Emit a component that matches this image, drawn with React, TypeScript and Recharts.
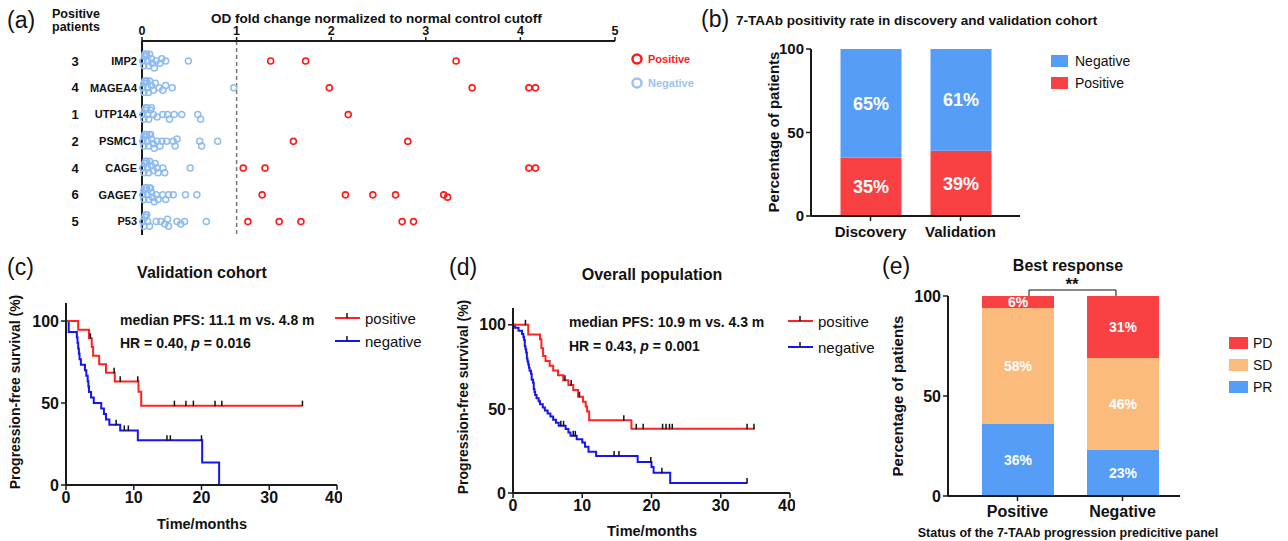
import {
    ScatterChart,
    Scatter,
    XAxis,
    YAxis,
    ReferenceLine,
    BarChart,
    Bar,
    LabelList,
    ComposedChart,
    Line,
} from "recharts";

const FONT = '"Liberation Sans", Arial, Helvetica, sans-serif';
const INK = "#1a1a1a";

// --- (a) marker dot plot ---
const markers = ["IMP2", "MAGEA4", "UTP14A", "PSMC1", "CAGE", "GAGE7", "P53"];
const positiveCounts = [3, 4, 1, 2, 4, 6, 5];
const positiveValues = [
    [1.36, 1.73, 3.32],
    [1.98, 3.49, 4.09, 4.16],
    [2.18],
    [1.6, 2.81],
    [1.07, 1.3, 4.09, 4.16],
    [1.27, 2.15, 2.44, 2.68, 3.19, 3.23],
    [1.12, 1.45, 1.68, 2.75, 2.87],
];
const negativeValues = [
    [0.01, 0.02, 0.03, 0.03, 0.04, 0.05, 0.06, 0.07, 0.08, 0.1, 0.11, 0.13, 0.15, 0.19, 0.21, 0.25, 0.49],
    [0.01, 0.02, 0.02, 0.03, 0.04, 0.05, 0.06, 0.07, 0.08, 0.1, 0.12, 0.14, 0.18, 0.22, 0.25, 0.32, 0.97],
    [0.01, 0.02, 0.03, 0.04, 0.05, 0.06, 0.07, 0.09, 0.1, 0.12, 0.16, 0.22, 0.27, 0.29, 0.34, 0.42, 0.59, 0.62],
    [0.01, 0.02, 0.02, 0.03, 0.04, 0.05, 0.06, 0.07, 0.08, 0.09, 0.1, 0.12, 0.13, 0.16, 0.19, 0.21, 0.26, 0.33, 0.35, 0.37, 0.61, 0.63, 0.8],
    [0.01, 0.02, 0.03, 0.04, 0.05, 0.06, 0.07, 0.08, 0.1, 0.12, 0.14, 0.16, 0.17, 0.22, 0.24, 0.51],
    [0.01, 0.02, 0.02, 0.03, 0.04, 0.05, 0.06, 0.07, 0.08, 0.09, 0.1, 0.11, 0.13, 0.15, 0.17, 0.22, 0.25, 0.28, 0.33, 0.46, 0.58],
    [0.01, 0.02, 0.03, 0.04, 0.05, 0.06, 0.08, 0.15, 0.2, 0.24, 0.27, 0.28, 0.37, 0.41, 0.45, 0.68],
];

// --- (b) positivity rate ---
const cohorts = ["Discovery", "Validation"];
const cohortPositive = [35, 39];
const cohortNegative = [65, 61];

// --- (c) validation cohort PFS ---
const cPosTime = [0, 1.8, 3.4, 3.8, 4.0, 4.9, 5.9, 7.2, 10.7, 11.1, 34.9];
const cPosSurv = [100, 94.7, 89.5, 84.2, 78.9, 73.7, 68.4, 63.2, 56.9, 48.4, 48.4];
const cPosCensTime = [3.6, 7.1, 8.0, 10.6, 16.0, 17.7, 18.8, 22.0, 23.0, 34.9];
const cPosCensSurv = [89.5, 68.4, 63.2, 63.2, 48.4, 48.4, 48.4, 48.4, 48.4, 48.4];
const cNegTime = [0, 0.4, 1.6, 1.7, 1.8, 1.9, 2.0, 2.2, 2.8, 3.0, 3.2, 3.3, 3.4, 3.7, 4.1, 5.2, 5.6, 5.9, 6.4, 8.0, 10.6, 20.1, 22.6];
const cNegSurv = [100, 93.3, 90, 86.7, 83.3, 80, 76.7, 73.3, 70, 66.7, 63.3, 60, 56.7, 53.3, 50, 46.7, 43.3, 40, 36.7, 33.3, 27.3, 13.7, 0];
const cNegCensTime = [7.4, 8.6, 9.2, 14.9, 15.4, 20.0];
const cNegCensSurv = [36.7, 33.3, 33.3, 27.3, 27.3, 27.3];

// --- (d) overall population PFS ---
const dPosTime = [0, 2.2, 3.9, 4.1, 4.35, 4.7, 5.3, 5.8, 6.5, 7.25, 8.0, 8.7, 9.4, 10.1, 10.5, 10.7, 11.0, 17.1, 34.9];
const dPosSurv = [100, 94.3, 91.4, 86.0, 81.4, 78.5, 75.7, 72.8, 70.0, 67.1, 64.2, 61.3, 57.2, 54.3, 51.4, 48.5, 43.2, 38.2, 38.2];
const dPosCensTime = [1.8, 7.5, 8.4, 9.6, 16.0, 17.8, 18.8, 21.6, 22.1, 22.6, 23.0, 33.8, 34.8];
const dPosCensSurv = [100, 67.1, 64.2, 57.2, 43.2, 38.2, 38.2, 38.2, 38.2, 38.2, 38.2, 38.2, 38.2];
const dNegTime = [0, 0.3, 0.8, 1.3, 1.5, 1.6, 1.7, 1.8, 1.9, 2.0, 2.1, 2.2, 2.3, 2.4, 2.6, 2.7, 2.9, 3.0, 3.1, 3.2, 3.4, 3.7, 3.9, 4.3, 4.6, 5.0, 5.4, 5.8, 6.2, 6.6, 7.6, 8.0, 8.3, 9.2, 10.0, 10.4, 10.9, 12.0, 18.0, 20.0, 20.3, 22.7, 33.8];
const dNegSurv = [100, 98.2, 96.4, 94.5, 92.7, 90.9, 87.3, 85.5, 83.6, 80.0, 78.2, 76.4, 74.5, 72.7, 70.9, 67.3, 65.5, 61.8, 60.0, 58.2, 56.4, 54.5, 52.7, 50.9, 49.1, 47.3, 45.5, 43.6, 41.8, 40.0, 38.0, 36.0, 34.0, 32.0, 30.0, 27.5, 24.6, 22.0, 18.5, 15.5, 12.0, 6.0, 6.0];
const dNegCensTime = [6.9, 7.3, 8.7, 9.0, 14.6, 15.3, 19.9, 21.5, 33.8];
const dNegCensSurv = [40, 40, 34, 34, 22, 22, 18.5, 12, 6];

// --- (e) best response ---
const statuses = ["Positive", "Negative"];
const prRate = [36, 23];
const sdRate = [58, 46];
const pdRate = [6, 31];

// spread points of one row so circles don't sit on top of each other
const PX_PER_UNIT = 94.6;
const PX_PER_ROW = 26.7;
function swarm(rows: number[][]) {
    const out: { v: number; row: number }[] = [];
    rows.forEach((vals, r) => {
        const placed: { x: number; y: number }[] = [];
        [...vals].sort((a, b) => a - b).forEach((v) => {
            const x = v * PX_PER_UNIT;
            let dy = 0;
            for (const k of [0, 1, -1, 2, -2, 3, -3]) {
                dy = k * 2.3;
                if (placed.every((p) => Math.hypot(p.x - x, p.y - dy) >= 4)) break;
            }
            placed.push({ x, y: dy });
            out.push({ v, row: r + dy / PX_PER_ROW });
        });
    });
    return out;
}

const zip = (t: number[], s: number[]) => t.map((x, i) => ({ t: x, s: s[i] }));

const axisStyle = { stroke: INK, strokeWidth: 2 };
const tickFont = { fill: "#111", fontSize: 16, fontWeight: 700, fontFamily: FONT };

const censorShape = (p: any) => (
    <line x1={p.cx} x2={p.cx} y1={p.cy - 5} y2={p.cy + 0.5} stroke="#111" strokeWidth={1.5} />
);

function DotPanel() {
    const neg = swarm(negativeValues);
    const pos = swarm(positiveValues);
    const rowTick = (p: any) => {
        const i = p.payload.value;
        return (
            <g>
                <text x={p.x} y={p.y} dy="0.35em" textAnchor="end" fontSize={11} fontWeight={700} fill="#111" fontFamily={FONT}>
                    {markers[i]}
                </text>
                <text x={75} y={p.y} dy="0.35em" textAnchor="middle" fontSize={13} fontWeight={700} fill="#111" fontFamily={FONT}>
                    {positiveCounts[i]}
                </text>
            </g>
        );
    };
    return (
        <ScatterChart width={640} height={240} margin={{ top: 11, right: 25, bottom: 5, left: 10 }}>
            <XAxis
                type="number"
                dataKey="v"
                orientation="top"
                domain={[0, 5]}
                ticks={[0, 1, 2, 3, 4, 5]}
                height={30}
                axisLine={axisStyle}
                tickLine={{ stroke: INK, strokeWidth: 1.5 }}
                tickSize={4}
                tick={{ ...tickFont, fontSize: 12.5 }}
            />
            <YAxis
                type="number"
                dataKey="row"
                domain={[-0.75, 6.5]}
                reversed
                ticks={[0, 1, 2, 3, 4, 5, 6]}
                width={132}
                axisLine={axisStyle}
                tickLine={{ stroke: INK, strokeWidth: 1 }}
                tickSize={3}
                tick={rowTick}
            />
            <ReferenceLine x={1} stroke="#777" strokeDasharray="4 3" strokeWidth={1.5} />
            <Scatter
                data={neg}
                isAnimationActive={false}
                shape={(p: any) => <circle cx={p.cx} cy={p.cy} r={3} fill="none" stroke="#8FBCF0" strokeWidth={1.5} />}
            />
            <Scatter
                data={pos}
                isAnimationActive={false}
                shape={(p: any) => <circle cx={p.cx} cy={p.cy} r={3} fill="none" stroke="#FF1A1A" strokeWidth={1.6} />}
            />
        </ScatterChart>
    );
}

const pctLabel = (size: number) => (p: any) => {
    const vb = p.viewBox ?? p;
    const x = (vb.x ?? p.x) + (vb.width ?? p.width) / 2;
    const y = (vb.y ?? p.y) + (vb.height ?? p.height) / 2;
    return (
        <text x={x} y={y} dy="0.36em" textAnchor="middle" fill="#fff" fontSize={size} fontWeight={700} fontFamily={FONT}>
            {`${p.value}%`}
        </text>
    );
};

function CohortBars() {
    const data = cohorts.map((c, i) => ({ name: c, pos: cohortPositive[i], neg: cohortNegative[i] }));
    return (
        <BarChart width={325} height={250} data={data} margin={{ top: 49, right: 5, bottom: 4, left: 61 }}>
            <XAxis dataKey="name" padding={{ left: 14.5, right: 14.5 }} height={30} axisLine={axisStyle} tickLine={{ stroke: INK, strokeWidth: 1.5 }} tickSize={5} tickMargin={5} tick={{ ...tickFont, fontSize: 15 }} />
            <YAxis domain={[0, 100]} ticks={[0, 50, 100]} width={50} axisLine={axisStyle} tickLine={{ stroke: INK, strokeWidth: 1.5 }} tickSize={5} tick={{ ...tickFont, fontSize: 15 }} />
            <Bar dataKey="pos" stackId="a" fill="#F94144" barSize={61} isAnimationActive={false}>
                <LabelList dataKey="pos" content={pctLabel(18)} />
            </Bar>
            <Bar dataKey="neg" stackId="a" fill="#559DF7" barSize={61} isAnimationActive={false}>
                <LabelList dataKey="neg" content={pctLabel(18)} />
            </Bar>
        </BarChart>
    );
}

function ResponseBars() {
    const data = statuses.map((s, i) => ({ name: s, pr: prRate[i], sd: sdRate[i], pd: pdRate[i] }));
    return (
        <BarChart width={295} height={270} data={data} margin={{ top: 36, right: 5, bottom: 4, left: 18 }}>
            <XAxis dataKey="name" padding={{ left: 17, right: 5 }} height={30} axisLine={axisStyle} tickLine={{ stroke: INK, strokeWidth: 1.5 }} tickSize={5} tickMargin={5} tick={{ ...tickFont, fontSize: 16 }} />
            <YAxis domain={[0, 100]} ticks={[0, 50, 100]} width={40} axisLine={axisStyle} tickLine={{ stroke: INK, strokeWidth: 1.5 }} tickSize={5} tick={{ ...tickFont, fontSize: 16 }} />
            <Bar dataKey="pr" stackId="a" fill="#559DF7" barSize={72} isAnimationActive={false}>
                <LabelList dataKey="pr" content={pctLabel(14)} />
            </Bar>
            <Bar dataKey="sd" stackId="a" fill="#FBBB7D" barSize={72} isAnimationActive={false}>
                <LabelList dataKey="sd" content={pctLabel(14)} />
            </Bar>
            <Bar dataKey="pd" stackId="a" fill="#F94144" barSize={72} isAnimationActive={false}>
                <LabelList dataKey="pd" content={pctLabel(14)} />
            </Bar>
        </BarChart>
    );
}

function KMPanel(props: {
    width: number;
    height: number;
    margin: { top: number; right: number; bottom: number; left: number };
    yMax: number;
    pos: { t: number; s: number }[];
    neg: { t: number; s: number }[];
    posCens: { t: number; s: number }[];
    negCens: { t: number; s: number }[];
}) {
    return (
        <ComposedChart width={props.width} height={props.height} margin={props.margin}>
            <XAxis type="number" dataKey="t" domain={[0, 40]} ticks={[0, 10, 20, 30, 40]} height={30} axisLine={axisStyle} tickLine={{ stroke: INK, strokeWidth: 1.5 }} tickSize={5} tick={tickFont} />
            <YAxis type="number" dataKey="s" domain={[0, props.yMax]} ticks={[0, 50, 100]} width={40} axisLine={axisStyle} tickLine={{ stroke: INK, strokeWidth: 1.5 }} tickSize={5} tick={tickFont} />
            <Line data={props.neg} dataKey="s" type="stepAfter" stroke="#1515F0" strokeWidth={2} dot={false} isAnimationActive={false} />
            <Line data={props.pos} dataKey="s" type="stepAfter" stroke="#FF2222" strokeWidth={2} dot={false} isAnimationActive={false} />
            <Scatter data={props.negCens} dataKey="s" shape={censorShape} isAnimationActive={false} />
            <Scatter data={props.posCens} dataKey="s" shape={censorShape} isAnimationActive={false} />
        </ComposedChart>
    );
}

const T = (p: any) => <text fontFamily={FONT} fill="#111" dominantBaseline="central" {...p} />;

function KMLegend({ x, y1, y2 }: { x: number; y1: number; y2: number }) {
    return (
        <g>
            <line x1={x} x2={x + 25} y1={y1} y2={y1} stroke="#FF2222" strokeWidth={2} />
            <line x1={x + 12} x2={x + 12} y1={y1 - 5} y2={y1} stroke="#111" strokeWidth={1.5} />
            <T x={x + 30} y={y1} fontSize={15}>positive</T>
            <line x1={x} x2={x + 25} y1={y2} y2={y2} stroke="#1515F0" strokeWidth={2} />
            <line x1={x + 12} x2={x + 12} y1={y2 - 5} y2={y2} stroke="#111" strokeWidth={1.5} />
            <T x={x + 30} y={y2} fontSize={15}>negative</T>
        </g>
    );
}

function Overlay() {
    return (
        <svg width={1288} height={541} style={{ position: "absolute", left: 0, top: 0, pointerEvents: "none" }}>
            {/* (a) */}
            <T x={7} y={20} fontSize={23}>(a)</T>
            <T x={52} y={14} fontSize={12.5} fontWeight={700}>Positive</T>
            <T x={52} y={27} fontSize={12.5} fontWeight={700}>patients</T>
            <T x={211} y={18} fontSize={13.5} fontWeight={700}>OD fold change normalized to normal control cutoff</T>
            <circle cx={637} cy={59} r={4.5} fill="none" stroke="#FF1A1A" strokeWidth={2.5} />
            <T x={648} y={59} fontSize={11} fontWeight={700} fill="#FF1A1A">Positive</T>
            <circle cx={637} cy={83} r={4.5} fill="none" stroke="#9CC3F0" strokeWidth={2.5} />
            <T x={648} y={83} fontSize={11} fontWeight={700} fill="#9CC3F0">Negative</T>

            {/* (b) */}
            <T x={701} y={19} fontSize={23}>(b)</T>
            <T x={736} y={20} fontSize={13.5} fontWeight={700}>7-TAAb positivity rate in discovery and validation cohort</T>
            <T x={0} y={0} fontSize={15} fontWeight={700} textAnchor="middle" transform="translate(773 132) rotate(-90)">Percentage of patients</T>
            <rect x={1051} y={55} width={17} height={12} fill="#559DF7" />
            <T x={1075} y={61} fontSize={14}>Negative</T>
            <rect x={1051} y={77} width={17} height={12} fill="#F94144" />
            <T x={1075} y={83} fontSize={14}>Positive</T>

            {/* (c) */}
            <T x={7} y={267} fontSize={23}>(c)</T>
            <T x={202} y={272} fontSize={16} fontWeight={700} textAnchor="middle">Validation cohort</T>
            <T x={0} y={0} fontSize={14} fontWeight={700} textAnchor="middle" transform="translate(15 392) rotate(-90)">Progression-free survival (%)</T>
            <T x={202} y={524} fontSize={14.5} fontWeight={700} textAnchor="middle">Time/months</T>
            <T x={120} y={320} fontSize={14} fontWeight={700}>median PFS: 11.1 m vs. 4.8 m</T>
            <T x={120} y={343} fontSize={14} fontWeight={700}>
                HR = 0.40, <tspan fontStyle="italic">p</tspan> = 0.016
            </T>
            <KMLegend x={335} y1={318} y2={341} />

            {/* (d) */}
            <T x={449} y={267} fontSize={23}>(d)</T>
            <T x={652} y={274} fontSize={16} fontWeight={700} textAnchor="middle">Overall population</T>
            <T x={0} y={0} fontSize={14} fontWeight={700} textAnchor="middle" transform="translate(463 397) rotate(-90)">Progression-free survival (%)</T>
            <T x={652} y={531} fontSize={14.5} fontWeight={700} textAnchor="middle">Time/months</T>
            <T x={569} y={322} fontSize={14} fontWeight={700}>median PFS: 10.9 m vs. 4.3 m</T>
            <T x={569} y={346} fontSize={14} fontWeight={700}>
                HR = 0.43, <tspan fontStyle="italic">p</tspan> = 0.001
            </T>
            <KMLegend x={788} y1={321} y2={347} />

            {/* (e) */}
            <T x={882} y={266} fontSize={23}>(e)</T>
            <T x={1068} y={265} fontSize={16} fontWeight={700} textAnchor="middle">Best response</T>
            <T x={1072} y={284} fontSize={17} fontWeight={700} textAnchor="middle">**</T>
            <polyline points="1029,296 1029,290 1116,290 1116,296" fill="none" stroke="#111" strokeWidth={1} />
            <T x={0} y={0} fontSize={15} fontWeight={700} textAnchor="middle" transform="translate(897 396) rotate(-90)">Percentage of patients</T>
            <T x={1068} y={533} fontSize={12.5} fontWeight={700} textAnchor="middle">Status of the 7-TAAb progression predicitive panel</T>
            <rect x={1229} y={337} width={19} height={12} fill="#F94144" />
            <T x={1253} y={343} fontSize={14}>PD</T>
            <rect x={1229} y={359} width={19} height={12} fill="#FBBB7D" />
            <T x={1253} y={365} fontSize={14}>SD</T>
            <rect x={1229} y={381} width={19} height={12} fill="#559DF7" />
            <T x={1253} y={387} fontSize={14}>PR</T>
        </svg>
    );
}

export default function App() {
    return (
        <div style={{ position: "absolute", left: 0, top: 0, width: 1288, height: 541, background: "#fff", fontFamily: FONT, overflow: "hidden" }}>
            <div style={{ position: "absolute", left: 0, top: 0 }}>
                <DotPanel />
            </div>
            <div style={{ position: "absolute", left: 700, top: 0 }}>
                <CohortBars />
            </div>
            <div style={{ position: "absolute", left: 0, top: 260 }}>
                <KMPanel
                    width={342}
                    height={260}
                    margin={{ top: 43, right: 5, bottom: 5, left: 26 }}
                    yMax={111}
                    pos={zip(cPosTime, cPosSurv)}
                    neg={zip(cNegTime, cNegSurv)}
                    posCens={zip(cPosCensTime, cPosCensSurv)}
                    negCens={zip(cNegCensTime, cNegCensSurv)}
                />
            </div>
            <div style={{ position: "absolute", left: 450, top: 260 }}>
                <KMPanel
                    width={345}
                    height={268}
                    margin={{ top: 48, right: 5, bottom: 5, left: 23 }}
                    yMax={110}
                    pos={zip(dPosTime, dPosSurv)}
                    neg={zip(dNegTime, dNegSurv)}
                    posCens={zip(dPosCensTime, dPosCensSurv)}
                    negCens={zip(dNegCensTime, dNegCensSurv)}
                />
            </div>
            <div style={{ position: "absolute", left: 890, top: 260 }}>
                <ResponseBars />
            </div>
            <Overlay />
        </div>
    );
}
